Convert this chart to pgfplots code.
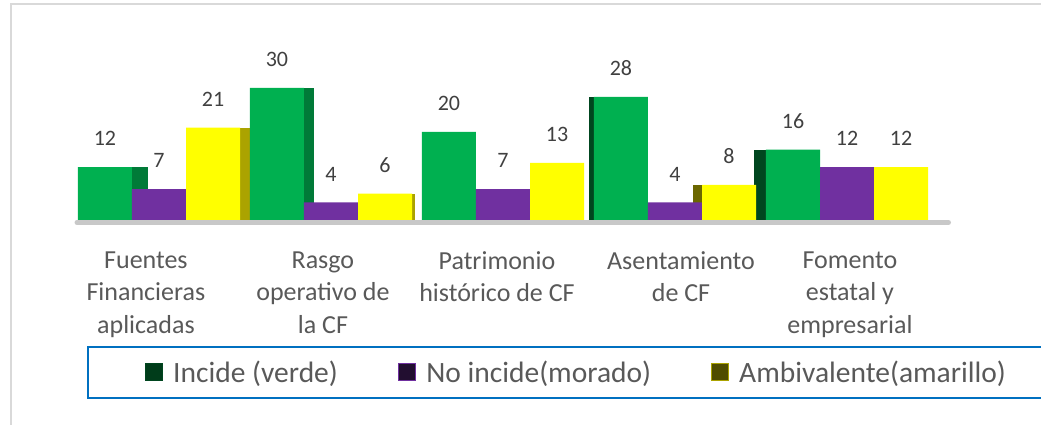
\documentclass[border=0pt]{standalone}
\usepackage{pgfplots}
\pgfplotsset{compat=1.18}
\usepackage{fontspec}
\setmainfont{Carlito}

\definecolor{verde}{HTML}{00B050}
\definecolor{verdeR}{HTML}{007A38}
\definecolor{verdeL}{HTML}{00461F}
\definecolor{morado}{HTML}{7030A0}
\definecolor{amarillo}{HTML}{FFFF00}
\definecolor{amarilloR}{HTML}{ABA300}
\definecolor{amarilloL}{HTML}{6B6700}
\definecolor{basegray}{HTML}{C8C8C8}
\definecolor{framegray}{HTML}{D9D9D9}
\definecolor{legblue}{HTML}{0070C0}
\definecolor{txtgray}{HTML}{595959}
\definecolor{valgray}{HTML}{404040}

\newcommand{\legfont}{\color{txtgray}\fontsize{29.5}{33}\selectfont}

\begin{document}
\begin{tikzpicture}[x=1pt,y=1pt]
\useasboundingbox (0,0) rectangle (1041,425);
% chart frame and legend box
\draw[framegray, line width=1.5pt] (11,0) -- (11,421) -- (1045,421);
\draw[legblue, line width=2pt] (88,27) rectangle (1055,78);
% floor
\draw[basegray, line width=5pt, line cap=round] (77,202.5) -- (948.5,202.5);

\begin{axis}[
    at={(73pt,205pt)}, anchor=south west,
    scale only axis,
    width=860pt, height=154pt,
    xmin=-0.5, xmax=4.5,
    ymin=0, ymax=35,
    ybar, bar width=0.314,
    axis line style={draw=none},
    tick style={draw=none},
    ytick=\empty,
    xtick={-0.076,0.953,1.965,3.035,4.017},
    xticklabels={Fuentes\\Financieras\\aplicadas, Rasgo\\operativo de\\la CF,
                 Patrimonio\\histórico de CF, Asentamiento\\de CF,
                 Fomento\\estatal y\\empresarial},
    xticklabel style={align=center, anchor=north, inner sep=0pt, yshift=-27pt,
                      font=\fontsize{26}{32.5}\selectfont, text=txtgray},
    clip=false,
    /pgf/number format/assume math mode=true,
    every node near coord/.append style={font=\fontsize{22}{26}\selectfont,
                      text=valgray, inner sep=0pt, yshift=21pt},
    legend columns=3,
    legend cell align=left,
    legend style={at={(0.0837,-0.987)}, anchor=west, draw=none, fill=none,
                  inner sep=0pt,
                  /tikz/every odd column/.append style={column sep=8pt},
                  /tikz/every even column/.append style={column sep=58pt}},
]

% darker side faces (drawn first, partly hidden by the fronts)
\addplot[forget plot, fill=verdeR, draw=none, bar shift=-0.221] coordinates {(0,12)};
\addplot[forget plot, fill=amarilloR, draw=none, bar shift=0.372] coordinates {(0,21)};
\addplot[forget plot, fill=verdeR, draw=none, bar shift=-0.256] coordinates {(1,30)};
\addplot[forget plot, fill=amarilloR, draw=none, bar shift=0.331] coordinates {(1,6)};
\addplot[forget plot, fill=verdeL, draw=none, bar shift=-0.344] coordinates {(3,28)};
\addplot[forget plot, fill=amarilloL, draw=none, bar shift=0.262] coordinates {(3,8)};
\addplot[forget plot, fill=verdeL, draw=none, bar shift=-0.384] coordinates {(4,16)};

% fronts
\addplot[forget plot, fill=verde, draw=none, bar shift=-0.314, nodes near coords]
  coordinates {(0,12) (1,30) (2,20) (3,28) (4,16)};
\addplot[forget plot, fill=morado, draw=none, bar shift=0, nodes near coords]
  coordinates {(0,7) (1,4) (2,7) (3,4) (4,12)};
\addplot[forget plot, fill=amarillo, draw=none, bar shift=0.314, nodes near coords]
  coordinates {(0,21) (1,6) (2,13) (3,8) (4,12)};

% legend keys
\addlegendimage{legend image code/.code={\draw[fill=verdeL!85!black, draw=verdeL, line width=1pt] (0pt,-8.5pt) rectangle (17pt,8.5pt);}}
\addlegendentry{\legfont Incide (verde)}
\addlegendimage{legend image code/.code={\draw[fill=morado!30!black, draw=morado, line width=1.5pt] (0pt,-8.5pt) rectangle (17pt,8.5pt);}}
\addlegendentry{\legfont No incide(morado)}
\addlegendimage{legend image code/.code={\draw[fill=amarilloL!75!black, draw=amarilloR, line width=1pt] (0pt,-8.5pt) rectangle (17pt,8.5pt);}}
\addlegendentry{\legfont Ambivalente(amarillo)}
\end{axis}
\end{tikzpicture}
\end{document}
